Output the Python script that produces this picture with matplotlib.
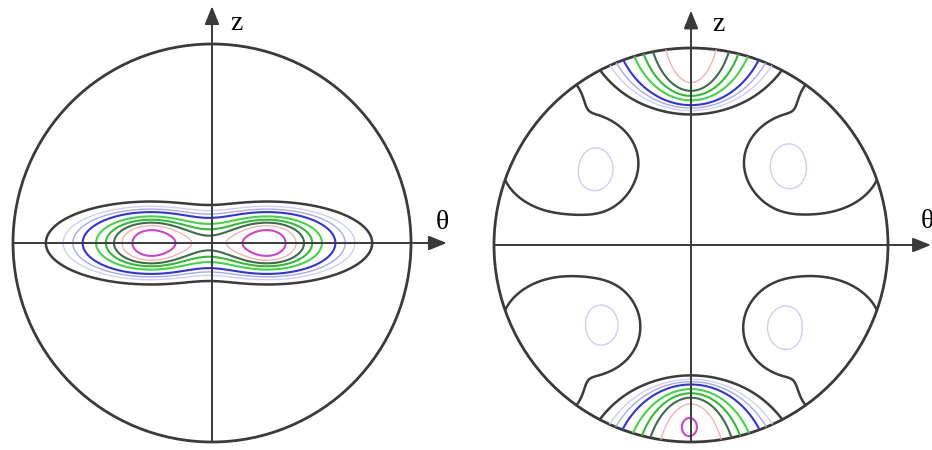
import numpy as np
import matplotlib.pyplot as plt
from matplotlib.patches import Circle

# contour levels (relative intensity), outer -> inner, with their colours
levels = [0.04, 0.108, 0.174, 0.265, 0.43, 0.57, 0.69, 0.80, 0.92]
level_colors = ['#3c3c3c', '#cfcff5', '#a9a9ee', '#3333dd', '#44d444',
                '#33bb33', '#3d6d4a', '#f2b2b2', '#cc44cc']
level_widths = [1.8, 1.0, 1.0, 1.5, 1.5, 1.5, 1.5, 1.0, 1.5]

# intensity maxima, in units of the circle radius.
# each one: centre, half-axes (u, v), profile power, how fast the u half-axis
# grows for outer contours (1 = plain ellipses), peak height
# left pole figure: two maxima on the theta axis
left_centers = [(-0.31, 0.0), (0.28, 0.0)]
left_widths = [(0.296, 0.141), (0.296, 0.141)]
left_powers = [3, 3]
left_growth = [1.47, 1.47]
left_amps = [1.0, 1.0]

# right pole figure: caps at +/-z, a tiny maximum near -z,
# four weak side lobes (body + tongue to the rim) with small local maxima
right_centers = [(0.0, 1.18), (0.0, -1.18), (-0.01, -0.92),
                 (-0.62, 0.42), (0.62, 0.42), (-0.62, -0.42), (0.62, -0.42),
                 (-0.66, 0.76), (0.66, 0.76), (-0.66, -0.76), (0.66, -0.76),
                 (-0.467, 0.367), (0.48, 0.39), (-0.43, -0.40), (0.46, -0.42)]
right_widths = [(0.378, 0.4624), (0.378, 0.4624), (0.035, 0.04),
                (0.37, 0.28), (0.37, 0.28), (0.37, 0.28), (0.37, 0.28),
                (0.13, 0.13), (0.13, 0.13), (0.13, 0.13), (0.13, 0.13),
                (0.12, 0.16), (0.12, 0.16), (0.12, 0.16), (0.12, 0.16)]
right_powers = [10, 10, 2,
                4, 4, 4, 4,
                4, 4, 4, 4,
                2, 2, 2, 2]
right_growth = [3.5, 3.5, 1,
                1, 1, 1, 1,
                1, 1, 1, 1,
                1, 1, 1, 1]
right_amps = [0.86, 0.90, 0.10,
              0.085, 0.085, 0.085, 0.085,
              0.05, 0.05, 0.05, 0.05,
              0.05, 0.05, 0.05, 0.05]

axis_color = '#3a3a3a'
W, H = 932, 450


def contour_index(du, dv, su, sv, g):
    # s such that (du, dv) lies on the ellipse with half-axes su*s**g, sv*s
    lo = np.full(du.shape, -8.0)
    hi = np.full(du.shape, 4.0)
    for _ in range(40):
        mid = 0.5 * (lo + hi)
        s = np.exp(mid)
        inside = (du / (su * s ** g)) ** 2 + (dv / (sv * s)) ** 2 <= 1
        hi = np.where(inside, mid, hi)
        lo = np.where(inside, lo, mid)
    return np.exp(0.5 * (lo + hi))


def intensity(U, V, centers, widths, powers, growth, amps):
    F = np.zeros_like(U)
    for (u0, v0), (su, sv), p, g, a in zip(centers, widths, powers, growth, amps):
        s = contour_index(U - u0, V - v0, su, sv, g)
        F += a * np.exp(-s ** p)
    return F


def pole_figure(fig, cx, cy, R, blobs, z_pos, t_pos):
    ax = fig.add_axes([0, 0, 1, 1])
    ax.set_xlim(-cx / R, (W - cx) / R)
    ax.set_ylim(-(H - cy) / R, cy / R)
    ax.set_facecolor('none')
    ax.axis('off')

    u = np.linspace(-1.02, 1.02, 420)
    U, V = np.meshgrid(u, u)
    F = intensity(U, V, *blobs)
    cs = ax.contour(U, V, F, levels=levels, colors=level_colors,
                    linewidths=level_widths)
    cs.set_clip_path(Circle((0, 0), 1.0, transform=ax.transData))

    ax.add_patch(Circle((0, 0), 1.0, fill=False, lw=2, ec=axis_color))
    arrow = dict(arrowstyle='-|>,head_length=0.55,head_width=0.22',
                 mutation_scale=20, lw=1.4, color=axis_color,
                 shrinkA=0, shrinkB=0)
    ax.annotate('', xy=(t_pos[0] + 0.02, 0), xytext=(-1, 0), arrowprops=arrow)
    ax.annotate('', xy=(0, 1.19), xytext=(0, -1), arrowprops=arrow)
    ax.text(z_pos[0], z_pos[1], 'z', fontsize=20, family='Liberation Serif',
            ha='center', va='center')
    ax.text(t_pos[0], t_pos[1], 'θ', fontsize=20, family='Liberation Serif',
            ha='center', va='center')


fig = plt.figure(figsize=(W / 100, H / 100), dpi=100)
pole_figure(fig, 212, 243, 199,
            (left_centers, left_widths, left_powers, left_growth, left_amps),
            (0.12, 1.105), (1.16, 0.105))
pole_figure(fig, 691, 245, 197,
            (right_centers, right_widths, right_powers, right_growth, right_amps),
            (0.137, 1.117), (1.198, 0.117))
fig.savefig('out.png', dpi=100, facecolor='white')
